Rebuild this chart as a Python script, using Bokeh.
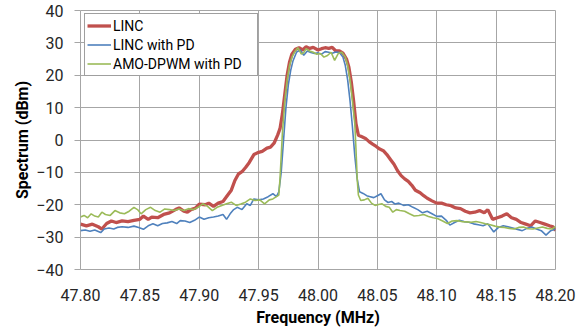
from bokeh.plotting import figure
from bokeh.models import Range1d, FixedTicker, NumeralTickFormatter, Legend, LegendItem
from bokeh.embed import file_html
from bokeh.resources import INLINE

# ---------------- data ----------------
linc_f = [47.800, 47.805, 47.810, 47.815, 47.818, 47.822, 47.826, 47.830, 47.835, 47.840,
          47.845, 47.850, 47.853, 47.857, 47.860, 47.865, 47.870, 47.875, 47.880, 47.883,
          47.887, 47.890, 47.893, 47.897, 47.900, 47.905, 47.908, 47.912, 47.916, 47.920,
          47.924, 47.927, 47.930, 47.933, 47.936, 47.939, 47.942, 47.946, 47.950, 47.953,
          47.957, 47.960, 47.963, 47.966, 47.968, 47.970, 47.972, 47.974, 47.976, 47.978,
          47.981, 47.984, 47.987, 47.990, 47.993, 47.996, 48.000, 48.003, 48.006, 48.009,
          48.012, 48.015, 48.018, 48.021, 48.024, 48.026, 48.028, 48.030, 48.032, 48.034,
          48.037, 48.040, 48.043, 48.046, 48.049, 48.052, 48.055, 48.058, 48.061, 48.064,
          48.067, 48.070, 48.073, 48.076, 48.079, 48.082, 48.086, 48.089, 48.092, 48.096,
          48.100, 48.104, 48.108, 48.112, 48.116, 48.120, 48.124, 48.128, 48.132, 48.136,
          48.140, 48.143, 48.147, 48.151, 48.155, 48.159, 48.163, 48.167, 48.171, 48.175,
          48.179, 48.183, 48.187, 48.191, 48.195, 48.198, 48.200]
linc_db = [-26.0, -26.5, -26.0, -26.8, -27.5, -25.8, -25.0, -25.5, -25.0, -25.2,
           -24.8, -24.5, -23.5, -24.5, -23.8, -24.0, -23.0, -22.5, -21.5, -21.0,
           -22.0, -22.3, -21.5, -21.0, -19.8, -20.0, -19.5, -20.5, -19.5, -19.0,
           -17.0, -15.5, -12.5, -10.5, -9.8, -8.5, -7.0, -4.5, -3.8, -3.5,
           -2.5, -2.2, -1.0, 1.5, 3.5, 8.0, 14.0, 20.0, 24.0, 26.5,
           28.0, 28.5, 27.8, 28.8, 28.3, 28.6, 27.8, 28.2, 28.5, 28.3,
           28.6, 27.5, 27.5, 26.8, 25.0, 22.5, 18.0, 12.0, 5.0, 1.5,
           1.0, 0.5, -0.5, -1.3, -2.0, -2.8, -3.3, -4.5, -6.0, -7.5,
           -9.5, -11.0, -12.0, -12.8, -14.0, -15.5, -16.3, -17.2, -18.0, -18.8,
           -19.5, -19.5, -20.0, -20.3, -21.0, -21.2, -22.0, -22.5, -22.3, -21.8,
           -22.5, -21.5, -24.5, -24.0, -23.5, -22.8, -24.0, -24.5, -25.5, -26.0,
           -26.5, -25.0, -25.5, -26.0, -26.5, -26.8, -28.0]

pd_f = [47.800, 47.804, 47.808, 47.812, 47.817, 47.820, 47.824, 47.828, 47.831, 47.835,
        47.840, 47.845, 47.849, 47.853, 47.857, 47.861, 47.865, 47.869, 47.873, 47.877,
        47.881, 47.884, 47.888, 47.892, 47.896, 47.900, 47.904, 47.908, 47.912, 47.916,
        47.920, 47.923, 47.926, 47.929, 47.932, 47.936, 47.940, 47.943, 47.946, 47.950,
        47.954, 47.958, 47.962, 47.965, 47.967, 47.969, 47.971, 47.973, 47.975, 47.977,
        47.979, 47.982, 47.985, 47.988, 47.991, 47.994, 47.997, 48.000, 48.003, 48.006,
        48.009, 48.012, 48.015, 48.018, 48.021, 48.023, 48.025, 48.027, 48.029, 48.031,
        48.033, 48.035, 48.038, 48.041, 48.044, 48.047, 48.050, 48.053, 48.056, 48.059,
        48.062, 48.065, 48.068, 48.072, 48.076, 48.080, 48.084, 48.088, 48.092, 48.096,
        48.100, 48.104, 48.108, 48.111, 48.115, 48.119, 48.123, 48.127, 48.131, 48.135,
        48.139, 48.143, 48.148, 48.152, 48.156, 48.160, 48.164, 48.168, 48.172, 48.176,
        48.180, 48.184, 48.188, 48.192, 48.196, 48.200]
pd_db = [-28.0, -27.8, -28.2, -27.8, -28.6, -27.5, -27.2, -27.5, -27.0, -26.8,
         -27.0, -26.6, -27.0, -27.6, -26.5, -25.9, -26.5, -25.8, -25.6, -25.2,
         -25.8, -24.9, -25.0, -25.5, -24.8, -23.8, -24.5, -24.0, -23.8, -23.5,
         -23.0, -24.5, -22.8, -21.5, -20.8, -21.5, -19.7, -20.2, -18.2, -18.5,
         -18.2, -17.5, -16.6, -17.5, -16.0, -10.0, 0.0, 10.0, 17.0, 21.5,
         24.5, 27.2, 27.8, 26.2, 27.5, 27.0, 26.7, 26.9, 26.5, 27.3,
         27.1, 26.8, 27.2, 27.0, 25.6, 23.0, 18.5, 12.0, 4.0, -5.0,
         -12.0, -16.0, -16.5, -17.2, -17.5, -17.8, -17.2, -16.6, -18.5, -19.3,
         -19.0, -19.8, -19.5, -20.2, -20.0, -20.8, -21.5, -22.5, -22.0, -22.8,
         -23.6, -23.5, -24.8, -26.3, -25.5, -24.8, -25.2, -25.4, -25.9, -26.2,
         -26.5, -25.9, -28.4, -27.0, -26.5, -26.8, -27.2, -27.6, -28.0, -27.3,
         -26.9, -27.5, -28.0, -29.4, -28.0, -27.5]

amo_f = [47.800, 47.803, 47.806, 47.809, 47.812, 47.815, 47.818, 47.821, 47.825, 47.829,
         47.833, 47.837, 47.841, 47.845, 47.848, 47.851, 47.855, 47.859, 47.863, 47.867,
         47.871, 47.875, 47.879, 47.883, 47.887, 47.891, 47.895, 47.899, 47.903, 47.907,
         47.911, 47.915, 47.919, 47.923, 47.927, 47.931, 47.935, 47.939, 47.943, 47.947,
         47.951, 47.955, 47.959, 47.962, 47.965, 47.967, 47.968, 47.969, 47.970, 47.972,
         47.974, 47.976, 47.978, 47.980, 47.983, 47.986, 47.988, 47.990, 47.993, 47.996,
         47.999, 48.002, 48.005, 48.008, 48.011, 48.014, 48.017, 48.020, 48.023, 48.025,
         48.027, 48.029, 48.031, 48.032, 48.033, 48.034, 48.036, 48.039, 48.042, 48.045,
         48.048, 48.051, 48.054, 48.057, 48.060, 48.063, 48.066, 48.069, 48.073, 48.077,
         48.081, 48.085, 48.089, 48.093, 48.097, 48.101, 48.105, 48.109, 48.113, 48.117,
         48.121, 48.125, 48.129, 48.133, 48.137, 48.141, 48.145, 48.149, 48.153, 48.157,
         48.161, 48.165, 48.169, 48.173, 48.177, 48.181, 48.185, 48.189, 48.193, 48.197,
         48.200]
amo_db = [-23.8, -23.3, -24.0, -22.8, -23.5, -23.8, -22.3, -23.0, -23.3, -21.8,
          -22.5, -22.8, -22.0, -20.8, -21.5, -22.8, -21.5, -20.8, -21.8, -22.3,
          -21.3, -21.5, -21.8, -21.3, -21.8, -21.2, -21.5, -20.8, -19.7, -20.5,
          -21.8, -20.8, -20.2, -19.7, -19.2, -20.2, -19.8, -19.2, -18.2, -18.7,
          -18.5, -19.7, -18.5, -18.2, -17.5, -17.0, -12.0, -5.0, 2.0, 12.0,
          18.5, 23.0, 25.5, 27.0, 28.5, 26.5, 27.0, 28.2, 27.5, 27.1,
          26.5, 26.7, 25.6, 26.1, 27.1, 24.6, 26.7, 27.1, 25.6, 23.0,
          18.5, 12.0, 5.0, -3.0, -12.0, -17.0, -18.7, -18.5, -18.0, -19.5,
          -20.2, -19.9, -19.7, -20.5, -20.8, -22.3, -21.5, -21.8, -22.0, -22.8,
          -23.5, -23.3, -23.0, -23.6, -24.0, -24.3, -25.0, -25.8, -25.0, -24.9,
          -25.2, -25.3, -25.4, -25.2, -25.5, -25.9, -26.2, -26.6, -26.9, -27.0,
          -27.3, -27.5, -27.0, -26.9, -27.4, -27.5, -27.2, -26.9, -27.3, -27.5,
          -26.7]

x_ticks = [47.80, 47.85, 47.90, 47.95, 48.00, 48.05, 48.10, 48.15, 48.20]
y_ticks = [-40, -30, -20, -10, 0, 10, 20, 30, 40]
series_names = ["LINC", "LINC with PD", "AMO-DPWM with PD"]
x_title = "Frequency (MHz)"
y_title = "Spectrum (dBm)"

# ---------------- figure ----------------
FONT = "Roboto"
GRID = "#a6a6a6"

p = figure(width=580, height=332, output_backend="svg", toolbar_location=None,
           x_range=Range1d(47.80, 48.20), y_range=Range1d(-40, 40),
           min_border_left=80, min_border_right=25, min_border_top=10, min_border_bottom=63)

p.background_fill_color = "white"
p.border_fill_color = "white"
p.outline_line_color = GRID
p.outline_line_width = 1

p.xgrid.grid_line_color = GRID
p.ygrid.grid_line_color = GRID
p.xgrid.grid_line_width = 1
p.ygrid.grid_line_width = 1

p.xaxis.ticker = FixedTicker(ticks=x_ticks)
p.yaxis.ticker = FixedTicker(ticks=y_ticks)
p.xgrid.ticker = FixedTicker(ticks=x_ticks)
p.ygrid.ticker = FixedTicker(ticks=y_ticks)
p.xaxis.formatter = NumeralTickFormatter(format="0.00")

for ax in (p.xaxis, p.yaxis):
    ax.axis_line_color = None
    ax.minor_tick_line_color = None
    ax.major_tick_in = 0
    ax.minor_tick_out = 0
    ax.minor_tick_in = 0
    ax.major_label_text_font = FONT
    ax.major_label_text_font_size = "16px"
    ax.major_label_text_color = "#262626"
    ax.axis_label_text_font = FONT
    ax.axis_label_text_font_size = "16px"
    ax.axis_label_text_font_style = "bold"
    ax.axis_label_text_color = "black"

# x axis: no tick marks; y axis: short grey outward ticks
p.xaxis.major_tick_line_color = None
p.xaxis.major_tick_out = 0
p.yaxis.major_tick_line_color = GRID
p.yaxis.major_tick_out = 6

p.xaxis.axis_label = x_title
p.yaxis.axis_label = y_title
p.xaxis.major_label_standoff = 19
p.xaxis.axis_label_standoff = 4
p.yaxis.major_label_standoff = 11
p.yaxis.axis_label_standoff = 1

r1 = p.line(linc_f, linc_db, line_color="#c0504d", line_width=3.3)
r2 = p.line(pd_f, pd_db, line_color="#4f81bd", line_width=1.6)
r3 = p.line(amo_f, amo_db, line_color="#9bbb59", line_width=1.6)

legend = Legend(items=[LegendItem(label=series_names[0], renderers=[r1]),
                       LegendItem(label=series_names[1], renderers=[r2]),
                       LegendItem(label=series_names[2], renderers=[r3])],
                location=(4, 193), margin=0, padding=2, spacing=0,
                glyph_width=24, glyph_height=19, label_height=19, label_width=142,
                label_standoff=2,
                label_text_font=FONT, label_text_font_size="14px", label_text_color="black",
                border_line_color="#404040", border_line_width=1,
                background_fill_color="white", background_fill_alpha=1.0)
p.add_layout(legend, "center")

open("out.html", "w").write(file_html(p, INLINE))
